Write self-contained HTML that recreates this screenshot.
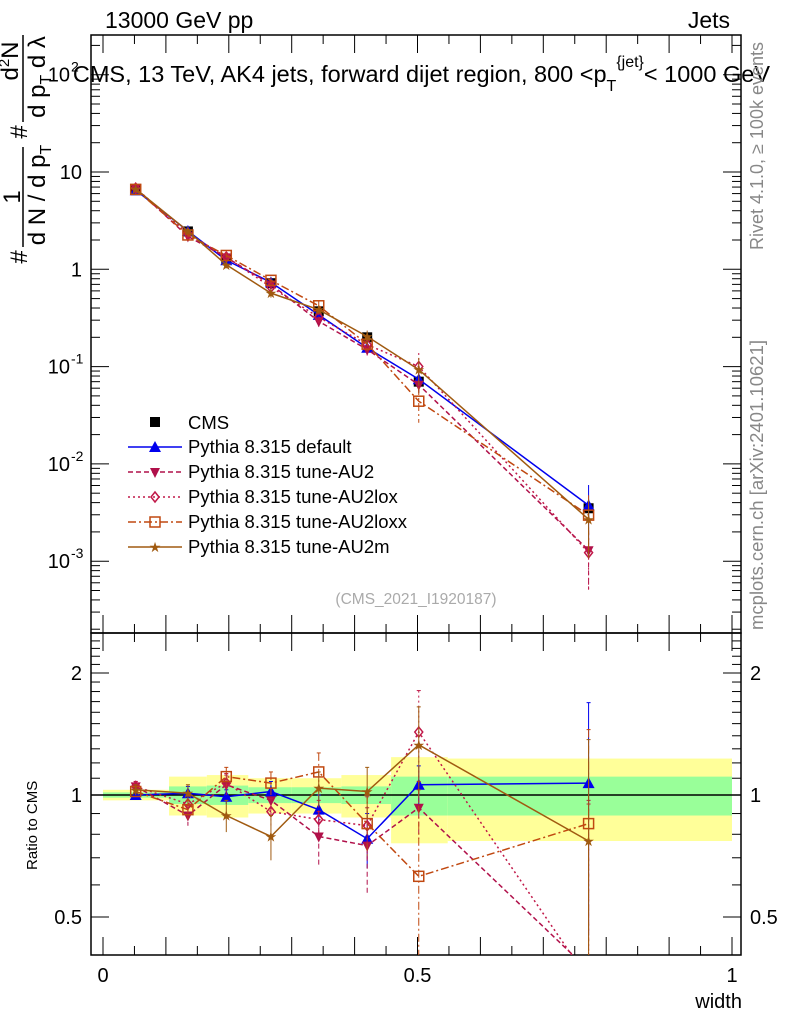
<!DOCTYPE html>
<html><head><meta charset="utf-8"><style>
html,body{margin:0;background:#fff;overflow:hidden;width:786px;height:1024px}
svg{display:block;font-family:"Liberation Sans",sans-serif}
</style></head><body>
<svg id="c" width="786" height="1024" viewBox="0 0 786 1024" xmlns="http://www.w3.org/2000/svg">
<text x="105" y="28" font-size="23">13000 GeV pp</text>
<text x="730" y="28" font-size="23" text-anchor="end">Jets</text>
<text x="770" y="82" font-size="23.5" text-anchor="end">CMS, 13 TeV, AK4 jets, forward dijet region, 800 &lt;p<tspan dy="9" font-size="16">T</tspan><tspan dy="-24" font-size="16">{jet}</tspan><tspan dy="15">&lt; 1000 GeV</tspan></text>
<text x="416" y="604" font-size="15.5" fill="#aaa" text-anchor="middle">(CMS_2021_I1920187)</text>
<text transform="translate(763,250) rotate(-90)" font-size="18" fill="#888">Rivet 4.1.0, ≥ 100k events</text>
<text transform="translate(763,630) rotate(-90)" font-size="18.5" fill="#888">mcplots.cern.ch [arXiv:2401.10621]</text>
<g font-size="24">
<text transform="translate(27,257) rotate(-90)" text-anchor="middle">#</text>
<text transform="translate(20,197) rotate(-90)" text-anchor="middle">1</text>
<line x1="23" y1="147" x2="23" y2="247" stroke="#000" stroke-width="1.5"/>
<text transform="translate(45,195) rotate(-90)" text-anchor="middle">d N / d p<tspan font-size="16" dy="6">T</tspan></text>
<text transform="translate(27,132) rotate(-90)" text-anchor="middle">#</text>
<text transform="translate(18,61) rotate(-90)" text-anchor="middle">d<tspan font-size="15" dy="-9">2</tspan><tspan dy="9">N</tspan></text>
<line x1="23" y1="35" x2="23" y2="122" stroke="#000" stroke-width="1.5"/>
<text transform="translate(45,77) rotate(-90)" text-anchor="middle">d p<tspan font-size="16" dy="6">T</tspan><tspan dy="-6"> d λ</tspan></text>
</g>
<text transform="translate(37,870) rotate(-90)" font-size="15">Ratio to CMS</text>
<text x="742" y="1008" font-size="20" text-anchor="end">width</text>
<g id="g"></g>
</svg>
<script>
const xVals=[0.052,0.135,0.196,0.267,0.343,0.420,0.502,0.772];
const binEdges=[0,0.105,0.165,0.231,0.30,0.379,0.458,0.548,1.0];
const cmsVals=[6.5,2.45,1.25,0.72,0.37,0.2,0.07,0.0035];
const statBand=[0.015,0.05,0.055,0.045,0.045,0.05,0.11,0.11];
const totBand=[0.03,0.11,0.12,0.1,0.1,0.12,0.24,0.23];
const rDefault=[1.0,1.01,0.99,1.02,0.92,0.78,1.06,1.07];
const rAU2=[1.05,0.89,1.06,0.97,0.79,0.75,0.93,0.37];
const rAU2lox=[1.05,0.95,1.07,0.91,0.87,0.84,1.43,0.35];
const rAU2loxx=[1.02,0.92,1.11,1.07,1.14,0.85,0.63,0.85];
const rAU2m=[1.03,1.01,0.89,0.79,1.04,1.02,1.33,0.77];
const errDefault=[0.02,0.04,0.04,0.06,0.08,0.12,0.12,0.62];
const errAU2=[0.03,0.05,0.06,0.07,0.12,0.18,0.15,0.6];
const errAU2lox=[0.03,0.05,0.06,0.07,0.1,0.15,0.38,0.6];
const errAU2loxx=[0.03,0.05,0.06,0.07,0.13,0.15,0.4,0.6];
const errAU2m=[0.03,0.05,0.08,0.1,0.1,0.15,0.32,0.6];
const yTicks=[-3,-2,-1,0,1,2];
const rTicks=[0.5,1,2];
const xTicks=[0,0.5,1];
const X0=91,X1=741,MT=35,MB=633,RB=955;
const X=v=>103+v*629;
const Y=v=>172-(Math.log10(v)-1)*97.3;
const R=v=>795-Math.log2(v)*122;
const NS="http://www.w3.org/2000/svg",g=document.getElementById('g');
function el(t,a,p){const e=document.createElementNS(NS,t);for(const k in a)e.setAttribute(k,a[k]);(p||g).appendChild(e);return e;}
function txt(x,y,s,a,p){const e=el('text',Object.assign({x:x,y:y,'font-size':20},a||{}),p);e.textContent=s;return e;}
for(let i=0;i<8;i++){
 const x0=X(binEdges[i]),w=X(binEdges[i+1])-x0;
 const yb=el('rect',{x:x0,y:R(1+totBand[i]),width:w,height:R(1-totBand[i])-R(1+totBand[i]),fill:'#ffff99'});
 
 
 const gb=el('rect',{x:x0,y:R(1+statBand[i]),width:w,height:R(1-statBand[i])-R(1+statBand[i]),fill:'#99ff99'});
 
 
}
el('line',{x1:X0,x2:X1,y1:795,y2:795,stroke:'#000','stroke-width':1.5});
const f1=el('rect',{x:X0,y:MT,width:X1-X0,height:MB-MT,fill:'none',stroke:'#000','stroke-width':1.5});


const f2=el('rect',{x:X0,y:MB,width:X1-X0,height:RB-MB,fill:'none',stroke:'#000','stroke-width':1.5});


for(let d=-4;d<=2;d++){for(let m=1;m<10;m++){const v=m*Math.pow(10,d),y=Y(v);if(y<MT||y>MB)continue;const L=m==1?18:9;
 el('line',{x1:X0,x2:X0+L,y1:y,y2:y,stroke:'#000'});el('line',{x1:X1,x2:X1-L,y1:y,y2:y,stroke:'#000'});}}
yTicks.forEach(d=>{const y=Y(Math.pow(10,d));let t;
 if(d==0)t=txt(82,y+7,'1',{'text-anchor':'end'});else if(d==1)t=txt(82,y+7,'10',{'text-anchor':'end'});
 else{t=txt(70,y+7,'10',{'text-anchor':'end'});txt(71,y-3,String(d),{'font-size':14});}
 });
for(let v=0.4;v<=2.5;v+=0.1){const y=R(v);if(y<MB||y>RB)continue;const maj=[0.5,1,2].some(q=>Math.abs(q-v)<1e-6);const L=maj?18:9;
 el('line',{x1:X0,x2:X0+L,y1:y,y2:y,stroke:'#000'});el('line',{x1:X1,x2:X1-L,y1:y,y2:y,stroke:'#000'});}
rTicks.forEach(v=>{const y=R(v)+7;const a=txt(82,y,String(v),{'text-anchor':'end'});
 const b=txt(750,y,String(v));});
for(let i=0;i<=20;i++){const v=i*0.05,x=X(v),L=i%2==0?18:9;
 [MT,MB].forEach(t=>el('line',{x1:x,x2:x,y1:t,y2:t+L,stroke:'#000'}));
 [MB,RB].forEach(t=>el('line',{x1:x,x2:x,y1:t,y2:t-L,stroke:'#000'}));}
xTicks.forEach(v=>{const t=txt(X(v),982,String(v),{'text-anchor':'middle'});});
const defs=el('defs',{});const cp=el('clipPath',{id:'cm'},defs);el('rect',{x:X0,y:MT,width:X1-X0,height:MB-MT},cp);
const cp2=el('clipPath',{id:'cr'},defs);el('rect',{x:X0,y:MB,width:X1-X0,height:RB-MB},cp2);
const gm=el('g',{'clip-path':'url(#cm)'}),gr=el('g',{'clip-path':'url(#cr)'});
function marker(type,x,y,c,p){let e;
 if(type=='sq')e=el('rect',{x:x-5,y:y-5,width:10,height:10,fill:c},p);
 else if(type=='osq')e=el('rect',{x:x-5,y:y-5,width:10,height:10,fill:'none',stroke:c,'stroke-width':1.5},p);
 else if(type=='tri')e=el('polygon',{points:`${x},${y-6} ${x-6},${y+5} ${x+6},${y+5}`,fill:c},p);
 else if(type=='dtri')e=el('polygon',{points:`${x},${y+6} ${x-5},${y-4} ${x+5},${y-4}`,fill:c},p);
 else if(type=='dia')e=el('polygon',{points:`${x},${y-5} ${x-4},${y} ${x},${y+5} ${x+4},${y}`,fill:'none',stroke:c,'stroke-width':1.5},p);
 else if(type=='star'){e=el('text',{x:x,y:y+5,'font-size':14,fill:c,'text-anchor':'middle'},p);e.textContent='★';}
 return e;}
const series=[
 {n:'default',r:rDefault,e:errDefault,c:'#0000ee',d:'',m:'tri',l:'Pythia 8.315 default'},
 {n:'au2',r:rAU2,e:errAU2,c:'#b0104a',d:'5,3',m:'dtri',l:'Pythia 8.315 tune-AU2'},
 {n:'au2lox',r:rAU2lox,e:errAU2lox,c:'#c01848',d:'2,3',m:'dia',l:'Pythia 8.315 tune-AU2lox'},
 {n:'au2loxx',r:rAU2loxx,e:errAU2loxx,c:'#c04810',d:'8,3,2,3',m:'osq',l:'Pythia 8.315 tune-AU2loxx'},
 {n:'au2m',r:rAU2m,e:errAU2m,c:'#a05a10',d:'',m:'star',l:'Pythia 8.315 tune-AU2m'}];
cmsVals.forEach((v,i)=>{const m=marker('sq',X(xVals[i]),Y(v),'#000',gm);
 el('line',{x1:X(xVals[i]),x2:X(xVals[i]),y1:Y(v*(1+totBand[i])),y2:Y(v*(1-totBand[i])),stroke:'#000'},gm);});
series.forEach(s=>{
 const pm=xVals.map((x,i)=>X(x)+','+Y(s.r[i]*cmsVals[i])).join(' ');
 const pr=xVals.map((x,i)=>X(x)+','+R(s.r[i])).join(' ');
 const lm=el('polyline',{points:pm,fill:'none',stroke:s.c,'stroke-width':1.5,'stroke-dasharray':s.d},gm);
 
 const lr=el('polyline',{points:pr,fill:'none',stroke:s.c,'stroke-width':1.5,'stroke-dasharray':s.d},gr);
 
 xVals.forEach((x,i)=>{const r=s.r[i],e=s.e[i],v=r*cmsVals[i];
  el('line',{x1:X(x),x2:X(x),y1:Y(v*(1+e)),y2:Y(Math.max(v*(1-e),1e-6)),stroke:s.c,'stroke-dasharray':s.d},gm);
  el('line',{x1:X(x),x2:X(x),y1:R(r+e),y2:R(Math.max(r-e,0.05)),stroke:s.c,'stroke-dasharray':s.d},gr);
  el('line',{x1:X(x)-2,x2:X(x)+2,y1:R(r+e),y2:R(r+e),stroke:s.c},gr);
  const a=marker(s.m,X(x),Y(v),s.c,gm);
  const b=marker(s.m,X(x),R(r),s.c,gr);});
});
const lg=el('g',{});
marker('sq',155,422,'#000',lg);txt(188,429,'CMS',{'font-size':18.5},lg);
series.forEach((s,i)=>{const y=447+i*25;el('line',{x1:128,x2:182,y1:y,y2:y,stroke:s.c,'stroke-width':1.5,'stroke-dasharray':s.d},lg);
 marker(s.m,155,y,s.c,lg);const t=el('text',{x:188,y:y+6,'font-size':18.5},lg);t.textContent=s.l;
 });
</script>
</body></html>
